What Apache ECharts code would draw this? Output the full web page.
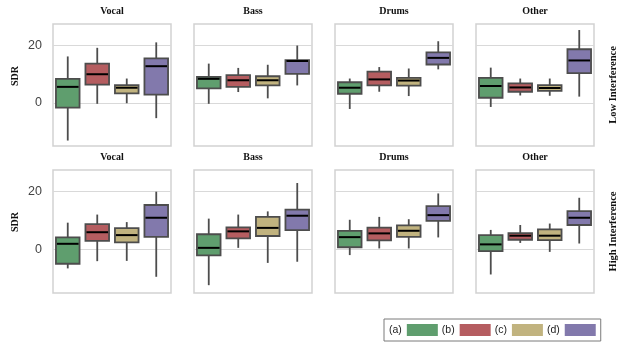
<!DOCTYPE html>
<html>
<head>
<meta charset="utf-8">
<script src="https://cdn.jsdelivr.net/npm/echarts@6/dist/echarts.min.js"></script>
<style>
  html, body { margin: 0; padding: 0; background: #ffffff; }
  #chart { width: 619px; height: 343px; }
</style>
</head>
<body>
<div id="chart"></div>
<script>
const instruments = ['Vocal', 'Bass', 'Drums', 'Other'];
const conditions = ['Low Interference', 'High Interference'];
const methods = ['(a)', '(b)', '(c)', '(d)'];
const methodColors = ['#5f9e6e', '#b55d60', '#c1b37f', '#8279ac'];
const yTicks = [0, 20];

// SDR summaries per method: [lower whisker, Q1, median, Q3, upper whisker]
const lowVocal  = [[-13.1, -1.6, 5.6, 8.4, 16.2], [-0.3, 6.4, 10.0, 13.7, 19.2], [-0.1, 3.3, 5.3, 6.2, 8.5], [-5.3, 2.9, 12.8, 15.5, 21.1]];
const lowBass   = [[-0.3, 5.1, 8.4, 9.1, 13.7], [3.8, 5.6, 7.9, 9.7, 12.2], [1.6, 6.1, 7.9, 9.3, 13.3], [6.1, 10.1, 14.6, 14.9, 20.0]];
const lowDrums  = [[-2.1, 3.2, 5.3, 7.2, 8.5], [3.9, 6.1, 8.2, 10.9, 12.5], [2.4, 6.0, 7.8, 8.7, 12.0], [11.7, 13.4, 15.7, 17.6, 21.5]];
const lowOther  = [[-1.4, 1.8, 5.9, 8.7, 12.3], [2.6, 3.9, 5.4, 6.8, 8.5], [2.5, 4.2, 5.2, 6.2, 8.5], [2.2, 10.4, 14.8, 18.7, 25.4]];
const highVocal = [[-6.5, -4.9, 2.0, 4.2, 9.3], [-4.0, 3.0, 6.0, 8.8, 12.1], [-3.9, 2.5, 5.0, 7.4, 9.5], [-9.4, 4.4, 11.0, 15.4, 20.0]];
const highBass  = [[-12.3, -2.0, 0.6, 5.3, 10.7], [0.6, 3.9, 6.3, 7.7, 12.1], [-4.6, 4.7, 7.5, 11.3, 13.2], [-4.2, 6.7, 11.7, 13.8, 23.0]];
const highDrums = [[-1.9, 0.8, 4.3, 6.5, 10.3], [0.4, 3.2, 5.6, 7.6, 11.3], [0.4, 4.4, 6.5, 8.4, 10.5], [4.2, 9.9, 11.9, 15.0, 19.4]];
const highOther = [[-8.6, -0.5, 1.8, 5.0, 6.8], [2.3, 3.4, 4.8, 5.7, 8.5], [-0.8, 3.3, 4.8, 7.0, 9.0], [2.1, 8.5, 11.0, 13.3, 17.9]];

const panels = [
  [lowVocal, lowBass, lowDrums, lowOther],
  [highVocal, highBass, highDrums, highOther]
];

// layout
const panelLefts = [53, 194, 335, 476];
const panelWidth = 118;
const rowTops = [24, 170];
const rowHeights = [122, 123];
const yMin = -15, yMax = 27.5;
const edgeColor = '#4d4d4d';
const serifBold = 'bold 10px "Liberation Serif", "DejaVu Serif", serif';

function renderBox(params, api) {
  const c = api.value(0);
  const lo = api.coord([c, api.value(1)]);
  const q1 = api.coord([c, api.value(2)]);
  const md = api.coord([c, api.value(3)]);
  const q3 = api.coord([c, api.value(4)]);
  const hi = api.coord([c, api.value(5)]);
  const w = api.size([1, 0])[0] * 0.8;
  const x = md[0];
  return {
    type: 'group',
    children: [
      { type: 'line', shape: { x1: x, y1: hi[1], x2: x, y2: q3[1] }, style: { stroke: edgeColor, lineWidth: 1.8 } },
      { type: 'line', shape: { x1: x, y1: q1[1], x2: x, y2: lo[1] }, style: { stroke: edgeColor, lineWidth: 1.8 } },
      { type: 'rect', shape: { x: x - w / 2, y: q3[1], width: w, height: q1[1] - q3[1] },
        style: { fill: api.visual('color'), stroke: edgeColor, lineWidth: 1.8 } },
      { type: 'line', shape: { x1: x - w / 2 + 1, y1: md[1], x2: x + w / 2 - 1, y2: md[1] },
        style: { stroke: '#000000', lineWidth: 2 } }
    ]
  };
}

const grids = [], xAxes = [], yAxes = [], series = [], graphics = [];

panels.forEach((row, r) => {
  row.forEach((panel, p) => {
    const gi = grids.length;
    grids.push({
      left: panelLefts[p], top: rowTops[r], width: panelWidth, height: rowHeights[r],
      show: true, borderColor: '#d2d2d2', borderWidth: 1.5, backgroundColor: '#ffffff'
    });
    xAxes.push({
      gridIndex: gi, type: 'category', data: methods, boundaryGap: true,
      axisLine: { show: false }, axisTick: { show: false }, axisLabel: { show: false }, splitLine: { show: false }
    });
    yAxes.push({
      gridIndex: gi, type: 'value', min: yMin, max: yMax,
      axisLine: { show: false },
      axisTick: { show: false, customValues: yTicks },
      axisLabel: {
        show: p === 0, customValues: yTicks, margin: 11,
        fontFamily: '"Liberation Sans", Arial, sans-serif', fontSize: 12.5, color: '#444444'
      },
      splitLine: { show: true, lineStyle: { color: '#d9d9d9', width: 1 } }
    });
    panel.forEach((s, m) => {
      series.push({
        type: 'custom', name: methods[m], xAxisIndex: gi, yAxisIndex: gi,
        itemStyle: { color: methodColors[m] },
        renderItem: renderBox,
        encode: { x: 0, y: [1, 2, 3, 4, 5] },
        data: [[m].concat(s)],
        silent: true
      });
    });
    graphics.push({
      type: 'text', x: panelLefts[p] + panelWidth / 2, y: rowTops[r] - 13,
      style: { text: instruments[p], font: serifBold, fill: '#111111', align: 'center', verticalAlign: 'middle' }
    });
  });
  graphics.push({
    type: 'text', x: 15, y: rowTops[r] + 52, rotation: Math.PI / 2,
    style: { text: 'SDR', font: serifBold, fill: '#111111', align: 'center', verticalAlign: 'middle' }
  });
  graphics.push({
    type: 'text', x: 613, y: rowTops[r] + rowHeights[r] / 2, rotation: Math.PI / 2,
    style: { text: conditions[r], font: 'bold 10.5px "Liberation Serif", "DejaVu Serif", serif', fill: '#111111', align: 'center', verticalAlign: 'middle' }
  });
});

const chart = echarts.init(document.getElementById('chart'), null, { renderer: 'canvas' });
chart.setOption({
  animation: false,
  backgroundColor: '#ffffff',
  grid: grids,
  xAxis: xAxes,
  yAxis: yAxes,
  series: series,
  legend: {
    data: methods, left: 384, top: 319, orient: 'horizontal', align: 'right',
    icon: 'rect', itemWidth: 31, itemHeight: 12, itemGap: 4, padding: [5, 5],
    borderColor: '#7a7a7a', borderWidth: 1,
    textStyle: { fontFamily: '"Liberation Sans", Arial, sans-serif', fontSize: 10.5, color: '#222222' }
  },
  graphic: graphics
});
</script>
</body>
</html>
